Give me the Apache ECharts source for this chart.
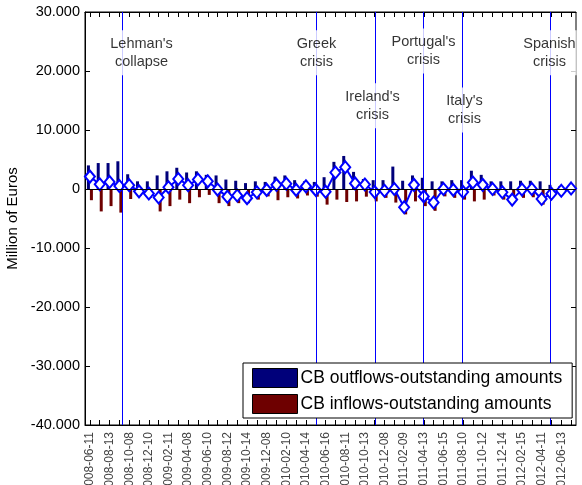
<!DOCTYPE html>
<html>
<head>
<meta charset="utf-8">
<script src="https://cdn.jsdelivr.net/npm/echarts@6/dist/echarts.min.js"></script>
<style>
  html, body { margin: 0; padding: 0; background: #fff; }
  #chart { width: 582px; height: 485px; }
</style>
</head>
<body>
<div id="chart"></div>
<script>
// Monthly reserve maintenance periods (start dates)
const categories = [
  '2008-06-11','2008-07-09','2008-08-13','2008-09-10','2008-10-08','2008-11-12','2008-12-10',
  '2009-01-21','2009-02-11','2009-03-11','2009-04-08','2009-05-13','2009-06-10','2009-07-08',
  '2009-08-12','2009-09-09','2009-10-14','2009-11-11','2009-12-08','2010-01-20','2010-02-10',
  '2010-03-10','2010-04-14','2010-05-12','2010-06-16','2010-07-14','2010-08-11','2010-09-08',
  '2010-10-13','2010-11-10','2010-12-08','2011-01-18','2011-02-09','2011-03-09','2011-04-13',
  '2011-05-11','2011-06-15','2011-07-13','2011-08-10','2011-09-14','2011-10-12','2011-11-09',
  '2011-12-14','2012-01-18','2012-02-15','2012-03-14','2012-04-11','2012-05-09','2012-06-13',
  '2012-07-11'
];

// CB outflows - outstanding amounts (million euros)
const outflows = [
  4000, 4400, 4400, 4700, 2500, 1300, 1300, 2300, 3000, 3600,
  2800, 3000, 2400, 2300, 1600, 1400, 1000, 1300, 1200, 2100,
  2300, 1500, 1300, 1200, 2000, 4600, 5600, 2900, 1700, 1500,
  1500, 3800, 1400, 2300, 1900, 1300, 1300, 1500, 1500, 3100,
  2400, 1300, 1300, 1300, 1400, 1400, 1300, 700, 450, 300
];

// CB inflows - outstanding amounts (million euros)
const inflows = [
  -1900, -3800, -2900, -4000, -1700, -1100, -1500, -3800, -2900, -1800,
  -2400, -1400, -1000, -2400, -2900, -2400, -2400, -1800, -1250, -1900,
  -1400, -1600, -1100, -1300, -2650, -1800, -2200, -2100, -1300, -2100,
  -1500, -2300, -4300, -2100, -2900, -3700, -1250, -1500, -1800, -2100,
  -1800, -1100, -1800, -2400, -1500, -1400, -2650, -1250, -700, -200
];

// Net position (million euros)
const netFlows = [
  2100, 800, 1200, 500, 650, -400, -750, -1450, 300, 1700,
  650, 1600, 1300, -100, -1300, -1100, -1550, -550, -150, 700,
  900, -150, 450, -150, -450, 2800, 3700, 950, 750, -500,
  -300, 0, -3100, 700, -1250, -2300, 0, -150, -500, 1100,
  700, 0, -550, -1800, -100, 0, -1700, -800, -300, 100
];

// Crisis events: name and position along the period axis
const eventNames = ["Lehman's\ncollapse", "Greek\ncrisis", "Ireland's\ncrisis", "Portugal's\ncrisis", "Italy's\ncrisis", "Spanish\ncrisis"];
const eventAt = [3.32, 23.07, 29.08, 33.97, 37.94, 46.9];

const seriesNames = ['CB outflows-outstanding amounts', 'CB inflows-outstanding amounts'];

const FONT = '"Liberation Sans", Arial, Helvetica, sans-serif';
const Y_MIN = -40000, Y_MAX = 30000;
const EVENT_BLUE = '#0000ff';

// label placement for the event annotations (value level and horizontal nudge)
const eventLabelLevel = [23100, 23100, 14100, 23400, 13400, 23100];
const eventLabelShift = [19, 0, -3, 0, 2, -1];

function thousands(v) {
  const s = Math.abs(v).toString().replace(/\B(?=(\d{3})+(?!\d))/g, '.');
  return (v < 0 ? '-' : '') + s;
}

const chart = echarts.init(document.getElementById('chart'), null, { renderer: 'canvas' });

function ticks() {
  return { show: true, inside: true, length: 5, lineStyle: { color: '#000', width: 1 } };
}

const option = {
  animation: false,
  textStyle: { fontFamily: FONT },
  grid: {
    left: 85, right: 6, top: 12, bottom: 60, outerBoundsMode: 'none',
    show: true, borderColor: '#000', borderWidth: 1, backgroundColor: 'transparent'
  },
  legend: {
    data: seriesNames,
    orient: 'vertical',
    left: 243,
    top: 363,
    itemWidth: 45,
    itemHeight: 19,
    itemGap: 6,
    padding: [5, 10, 4, 9],
    backgroundColor: '#fff',
    borderColor: '#000',
    borderWidth: 1,
    z: 20,
    icon: 'rect',
    itemStyle: { borderColor: '#000', borderWidth: 1 },
    textStyle: { fontSize: 17.5, color: '#000', fontFamily: FONT, padding: [0, 0, 0, -2] }
  },
  xAxis: [
    {
      type: 'category',
      position: 'bottom',
      data: categories,
      boundaryGap: true,
      axisLine: { onZero: false, lineStyle: { color: '#000', width: 1 } },
      axisTick: Object.assign(ticks(), { alignWithLabel: true, interval: 0 }),
      axisLabel: { rotate: 90, interval: 1, fontSize: 12, color: '#444', margin: 7, fontFamily: FONT },
      splitLine: { show: false }
    },
    {
      type: 'category',
      position: 'top',
      data: categories,
      boundaryGap: true,
      axisLine: { onZero: false, lineStyle: { color: '#000', width: 1 } },
      axisTick: Object.assign(ticks(), { alignWithLabel: true, interval: 0 }),
      axisLabel: { show: false },
      splitLine: { show: false }
    },
    {
      type: 'value',
      min: -0.5,
      max: categories.length - 0.5,
      show: false
    }
  ],
  yAxis: [
    {
      type: 'value',
      position: 'left',
      min: Y_MIN,
      max: Y_MAX,
      interval: 10000,
      name: 'Million of Euros',
      nameLocation: 'middle',
      nameGap: 61,
      nameTextStyle: { fontSize: 15, color: '#000', fontFamily: FONT },
      axisLine: { show: true, onZero: false, lineStyle: { color: '#000', width: 1 } },
      axisTick: ticks(),
      axisLabel: { formatter: thousands, fontSize: 14.5, color: '#000', margin: 5, fontFamily: FONT },
      splitLine: { show: false }
    },
    {
      type: 'value',
      position: 'right',
      min: Y_MIN,
      max: Y_MAX,
      interval: 10000,
      axisLine: { show: false, onZero: false },
      axisTick: ticks(),
      axisLabel: { show: false },
      splitLine: { show: false }
    }
  ],
  series: [
    {
      // vertical crisis markers
      name: 'event-lines',
      type: 'scatter',
      xAxisIndex: 2,
      yAxisIndex: 0,
      data: [],
      z: 1,
      markLine: {
        silent: true,
        symbol: ['none', 'none'],
        label: { show: false },
        lineStyle: { color: EVENT_BLUE, width: 1, type: 'solid', opacity: 1 },
        data: eventAt.map(x => ({ xAxis: x, lineStyle: { color: EVENT_BLUE } }))
      }
    },
    {
      name: seriesNames[0],
      type: 'bar',
      xAxisIndex: 0,
      yAxisIndex: 0,
      data: outflows,
      barWidth: 3,
      barGap: '0%',
      z: 2,
      itemStyle: { color: '#00007a' },
      markLine: {
        silent: true,
        symbol: ['none', 'none'],
        label: { show: false },
        lineStyle: { color: '#000', width: 1, type: 'solid' },
        data: [{ yAxis: 0 }]
      }
    },
    {
      name: seriesNames[1],
      type: 'bar',
      xAxisIndex: 0,
      yAxisIndex: 0,
      data: inflows,
      barWidth: 3,
      barGap: '0%',
      z: 2,
      itemStyle: { color: '#6e0000' }
    },
    {
      name: 'Net',
      type: 'line',
      xAxisIndex: 0,
      yAxisIndex: 0,
      data: netFlows,
      symbol: 'emptyDiamond',
      symbolSize: [10, 12],
      showAllSymbol: true,
      z: 4,
      lineStyle: { color: '#0000ff', width: 2 },
      itemStyle: { color: '#0000ff', borderColor: '#0000ff', borderWidth: 2 }
    },
    {
      name: 'events',
      type: 'scatter',
      xAxisIndex: 2,
      yAxisIndex: 0,
      symbolSize: 0,
      silent: true,
      z: 10,
      data: eventAt.map((x, i) => ({
        value: [x, eventLabelLevel[i]],
        label: { offset: [eventLabelShift[i], 0] }
      })),
      label: {
        show: true,
        position: 'inside',
        formatter: p => eventNames[p.dataIndex],
        fontSize: 14.5,
        lineHeight: 18,
        color: '#000',
        fontFamily: FONT,
        align: 'center',
        backgroundColor: '#fff',
        padding: [8, 1, 1, 1]
      }
    }
  ]
};

chart.setOption(option);
</script>
</body>
</html>
